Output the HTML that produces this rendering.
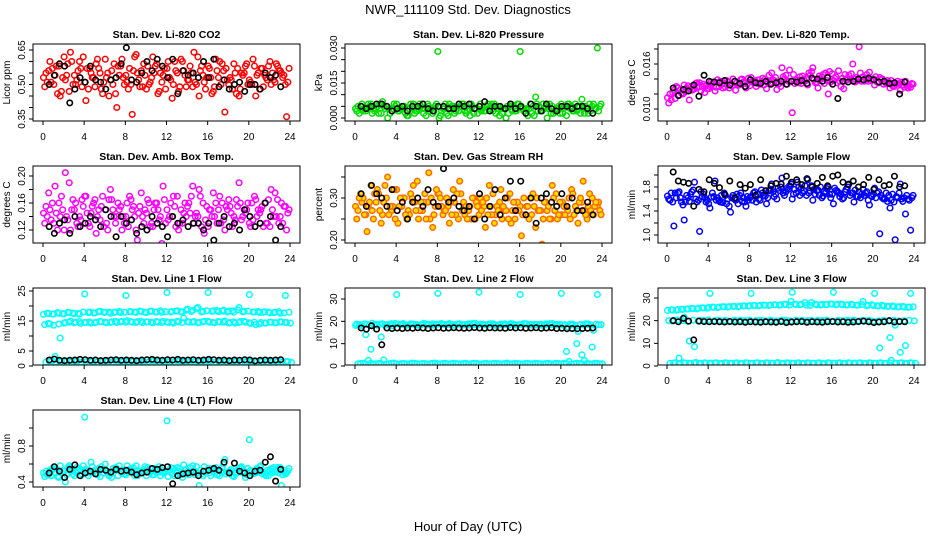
<!DOCTYPE html>
<html><head><meta charset="utf-8"><style>
html,body{margin:0;padding:0;background:#fff;}
svg{display:block;font-family:"Liberation Sans",sans-serif;}
</style></head><body>
<svg id="chart" width="936" height="540" viewBox="0 0 936 540" xmlns="http://www.w3.org/2000/svg">
<rect x="0" y="0" width="936" height="540" fill="#fff"/>
<text x="468" y="14" text-anchor="middle" font-size="13" fill="#000">NWR_111109 Std. Dev. Diagnostics</text>
<text x="468" y="531" text-anchor="middle" font-size="13" fill="#000">Hour of Day (UTC)</text>
</svg>
<script>
// ---- data ----
const xTicks = [0,4,8,12,16,20,24];

const co2A = [0.53,0.56,0.50,0.58,0.62,0.47,0.54,0.60,0.51,0.57,0.49,0.55,0.61,0.52,0.46,0.58,0.54,0.50,0.63,0.56,0.48,0.53,0.59,0.51,0.57,0.44,0.55,0.60,0.52,0.49,0.62,0.54,0.58,0.47,0.53,0.56,0.50,0.59,0.45,0.55,0.52,0.58,0.48,0.54,0.60,0.51,0.56,0.50];
const co2B = [0.49,0.60,0.54,0.45,0.52,0.64,0.50,0.57,0.43,0.55,0.59,0.48,0.53,0.56,0.40,0.61,0.51,0.37,0.55,0.49,0.58,0.62,0.46,0.54,0.60,0.50,0.47,0.56,0.52,0.64,0.45,0.51,0.57,0.49,0.60,0.38,0.53,0.55,0.48,0.58,0.51,0.45,0.57,0.53,0.50,0.59,0.55,0.36];
const co2C = [0.55,0.51,0.58,0.47,0.54,0.60,0.52,0.49,0.57,0.53,0.61,0.46,0.55,0.50,0.58,0.53,0.48,0.56,0.52,0.59,0.50,0.55,0.47,0.57,0.53,0.60,0.49,0.54,0.58,0.51,0.56,0.48,0.53,0.61,0.50,0.57,0.52,0.46,0.55,0.59,0.50,0.54,0.57,0.52,0.55,0.58,0.53,0.51];
const co2D = [0.51,0.57,0.46,0.53,0.59,0.50,0.56,0.62,0.48,0.53,0.57,0.51,0.45,0.59,0.54,0.50,0.57,0.62,0.49,0.54,0.51,0.58,0.55,0.48,0.52,0.56,0.61,0.49,0.55,0.50,0.58,0.53,0.46,0.56,0.59,0.52,0.48,0.57,0.54,0.50,0.61,0.55,0.49,0.58,0.52,0.56,0.54,0.57];
const co2K = [0.50,0.54,0.59,0.58,0.42,0.48,0.53,0.51,0.58,0.52,0.51,0.48,0.52,0.53,0.59,0.66,0.52,0.51,0.55,0.60,0.56,0.61,0.58,0.53,0.61,0.46,0.56,0.54,0.55,0.53,0.60,0.53,0.61,0.49,0.52,0.48,0.50,0.51,0.47,0.50,0.50,0.48,0.55,0.53,0.54,0.49];

const presA = [0.004,0.005,0.003,0.006,0.004,0.002,0.005,0.003,0.006,0.004,0.001,0.005,0.003,0.004,0.006,0.002,0.0285,0.004,0.001,0.005,0.003,0.006,0.004,0.002,0.005,0.003,0.004,0.006,0.001,0.004,0.005,0.003,0.0285,0.004,0.006,0.009,0.003,0.005,0.002,0.004,0.006,0.001,0.005,0.003,0.008,0.004,0.005,0.030];
const presB = [0.003,0.006,0.004,0.002,0.005,0.007,0.000,0.004,0.003,0.005,0.001,0.006,0.004,0.002,0.005,0.003,0.000,0.004,0.006,0.002,0.005,0.003,0.001,0.004,0.006,0.003,0.005,0.002,0.004,0.000,0.006,0.003,0.005,0.004,0.002,0.006,0.003,0.000,0.005,0.004,0.002,0.006,0.003,0.005,0.004,0.002,0.006,0.003];
const presC = [0.005,0.003,0.006,0.004,0.002,0.005,0.004,0.006,0.003,0.005,0.004,0.002,0.006,0.004,0.003,0.005,0.001,0.006,0.004,0.003,0.005,0.002,0.006,0.004,0.003,0.005,0.006,0.004,0.002,0.005,0.003,0.006,0.004,0.001,0.005,0.003,0.006,0.004,0.002,0.005,0.004,0.006,0.003,0.005,0.002,0.006,0.004,0.005];
const presD = [0.002,0.004,0.005,0.003,0.006,0.004,0.002,0.005,0.004,0.002,0.006,0.003,0.005,0.001,0.004,0.006,0.003,0.002,0.005,0.004,0.006,0.003,0.005,0.002,0.004,0.006,0.003,0.005,0.004,0.002,0.005,0.006,0.003,0.004,0.001,0.005,0.004,0.006,0.003,0.002,0.005,0.004,0.006,0.002,0.005,0.003,0.004,0.006];
const presK = [0.005,0.004,0.005,0.006,0.006,0.005,0.003,0.004,0.005,0.003,0.005,0.005,0.006,0.004,0.003,0.005,0.005,0.004,0.004,0.006,0.005,0.006,0.004,0.005,0.007,0.003,0.005,0.005,0.004,0.006,0.004,0.005,0.002,0.006,0.005,0.003,0.006,0.004,0.003,0.005,0.005,0.004,0.005,0.005,0.004,0.002];

const tempA = [0.0115,0.0122,0.0128,0.0120,0.0131,0.0126,0.0129,0.0133,0.0127,0.0136,0.0130,0.0134,0.0128,0.0137,0.0132,0.0135,0.0131,0.0138,0.0133,0.0140,0.0135,0.0142,0.0130,0.0145,0.0137,0.0139,0.0134,0.0141,0.0150,0.0136,0.0143,0.0138,0.0147,0.0135,0.0141,0.0139,0.0160,0.0138,0.0143,0.0137,0.0140,0.0135,0.0133,0.0136,0.0130,0.0134,0.0129,0.0131];
const tempB = [0.0108,0.0125,0.0118,0.0132,0.0112,0.0127,0.0135,0.0122,0.0130,0.0124,0.0137,0.0129,0.0133,0.0125,0.0139,0.0128,0.0142,0.0130,0.0136,0.0127,0.0148,0.0126,0.0155,0.0133,0.0095,0.0139,0.0144,0.0132,0.0155,0.0128,0.0146,0.0120,0.0138,0.0151,0.0127,0.0145,0.0140,0.0183,0.0137,0.0149,0.0132,0.0142,0.0136,0.0128,0.0134,0.0125,0.0137,0.0129];
const tempC = [0.0120,0.0114,0.0126,0.0123,0.0129,0.0134,0.0124,0.0131,0.0136,0.0129,0.0133,0.0138,0.0131,0.0135,0.0140,0.0133,0.0137,0.0134,0.0141,0.0136,0.0139,0.0133,0.0143,0.0137,0.0146,0.0135,0.0140,0.0148,0.0139,0.0144,0.0134,0.0150,0.0141,0.0137,0.0146,0.0140,0.0136,0.0148,0.0141,0.0138,0.0143,0.0139,0.0134,0.0138,0.0133,0.0136,0.0131,0.0134];
const tempD = [0.0112,0.0130,0.0121,0.0128,0.0125,0.0135,0.0130,0.0127,0.0134,0.0139,0.0128,0.0136,0.0140,0.0132,0.0136,0.0141,0.0135,0.0139,0.0132,0.0145,0.0138,0.0134,0.0140,0.0152,0.0134,0.0143,0.0137,0.0145,0.0135,0.0141,0.0148,0.0136,0.0143,0.0130,0.0139,0.0147,0.0142,0.0137,0.0146,0.0140,0.0136,0.0140,0.0138,0.0131,0.0137,0.0132,0.0128,0.0133];
const tempK = [0.0128,0.0118,0.0126,0.0124,0.0132,0.0117,0.0145,0.0137,0.0136,0.0135,0.0138,0.0132,0.0137,0.0134,0.0130,0.0139,0.0135,0.0134,0.0137,0.0133,0.0135,0.0137,0.0133,0.0137,0.0136,0.0138,0.0134,0.0141,0.0140,0.0137,0.0142,0.0133,0.0114,0.0137,0.0136,0.0137,0.0140,0.0139,0.0141,0.0139,0.0136,0.0137,0.0134,0.0135,0.0120,0.0136];

const ambA = [0.145,0.175,0.13,0.16,0.12,0.19,0.15,0.14,0.17,0.125,0.165,0.135,0.15,0.18,0.13,0.155,0.14,0.165,0.12,0.175,0.145,0.13,0.16,0.10,0.15,0.14,0.17,0.13,0.155,0.185,0.14,0.16,0.125,0.175,0.15,0.135,0.165,0.14,0.19,0.15,0.13,0.17,0.145,0.16,0.125,0.175,0.14,0.155];
const ambB = [0.13,0.15,0.185,0.14,0.205,0.12,0.16,0.135,0.17,0.145,0.115,0.155,0.13,0.165,0.14,0.12,0.16,0.15,0.105,0.14,0.165,0.125,0.15,0.185,0.135,0.17,0.12,0.145,0.16,0.13,0.18,0.115,0.15,0.14,0.17,0.12,0.155,0.135,0.16,0.145,0.125,0.165,0.15,0.13,0.18,0.14,0.16,0.12];
const ambC = [0.155,0.135,0.145,0.17,0.14,0.15,0.13,0.165,0.145,0.155,0.14,0.17,0.12,0.15,0.16,0.14,0.125,0.155,0.145,0.13,0.16,0.15,0.135,0.165,0.14,0.155,0.13,0.16,0.145,0.14,0.17,0.135,0.15,0.16,0.13,0.155,0.145,0.165,0.135,0.15,0.16,0.14,0.155,0.13,0.15,0.165,0.13,0.145];
const ambD = [0.14,0.16,0.12,0.15,0.135,0.165,0.125,0.155,0.13,0.16,0.15,0.125,0.165,0.14,0.15,0.13,0.17,0.14,0.155,0.15,0.125,0.16,0.14,0.13,0.16,0.125,0.15,0.14,0.17,0.145,0.125,0.155,0.14,0.13,0.16,0.15,0.125,0.155,0.14,0.16,0.135,0.15,0.125,0.165,0.14,0.13,0.155,0.15];
const ambK = [0.125,0.115,0.13,0.135,0.115,0.14,0.125,0.13,0.14,0.135,0.125,0.15,0.14,0.11,0.14,0.13,0.135,0.115,0.125,0.12,0.14,0.13,0.125,0.11,0.14,0.13,0.135,0.125,0.13,0.13,0.12,0.13,0.105,0.13,0.14,0.125,0.13,0.12,0.15,0.14,0.125,0.13,0.16,0.14,0.105,0.125];

const rhA = [0.28,0.31,0.26,0.33,0.29,0.24,0.30,0.27,0.32,0.28,0.25,0.30,0.34,0.27,0.29,0.23,0.31,0.26,0.28,0.32,0.25,0.29,0.27,0.30,0.26,0.28,0.33,0.24,0.29,0.27,0.31,0.25,0.28,0.26,0.30,0.23,0.27,0.29,0.25,0.31,0.26,0.28,0.32,0.27,0.29,0.25,0.30,0.28];
const rhB = [0.25,0.29,0.22,0.27,0.32,0.26,0.35,0.28,0.24,0.30,0.27,0.33,0.25,0.29,0.36,0.26,0.31,0.27,0.24,0.29,0.34,0.26,0.28,0.25,0.30,0.23,0.28,0.26,0.32,0.27,0.24,0.29,0.21,0.28,0.26,0.30,0.19,0.27,0.33,0.25,0.29,0.27,0.31,0.24,0.34,0.28,0.26,0.29];
const rhC = [0.27,0.30,0.28,0.25,0.31,0.29,0.26,0.32,0.28,0.30,0.26,0.29,0.27,0.31,0.25,0.28,0.30,0.27,0.29,0.26,0.31,0.28,0.25,0.29,0.27,0.30,0.26,0.28,0.25,0.30,0.27,0.29,0.26,0.28,0.31,0.27,0.25,0.28,0.30,0.26,0.28,0.30,0.26,0.29,0.27,0.31,0.28,0.27];
const rhD = [0.30,0.26,0.29,0.31,0.27,0.33,0.28,0.25,0.30,0.26,0.31,0.27,0.29,0.25,0.30,0.32,0.28,0.30,0.26,0.31,0.27,0.25,0.30,0.28,0.29,0.26,0.31,0.27,0.28,0.25,0.29,0.27,0.30,0.25,0.28,0.27,0.29,0.25,0.27,0.29,0.26,0.25,0.28,0.30,0.26,0.27,0.29,0.26];
const rhK = [0.31,0.28,0.33,0.31,0.30,0.28,0.32,0.27,0.29,0.25,0.29,0.30,0.28,0.32,0.29,0.28,0.37,0.29,0.30,0.28,0.27,0.28,0.25,0.31,0.25,0.28,0.32,0.26,0.30,0.34,0.27,0.34,0.26,0.30,0.24,0.30,0.31,0.29,0.28,0.31,0.28,0.30,0.27,0.27,0.29,0.26];

const flowA = [1.65,1.55,1.70,1.50,1.62,1.75,1.58,1.68,1.52,1.64,1.57,1.70,1.48,1.60,1.66,1.55,1.62,1.72,1.58,1.65,1.75,1.68,1.80,1.72,1.85,1.70,1.78,1.66,1.82,1.74,1.62,1.77,1.68,1.73,1.60,1.80,1.70,1.64,1.76,1.58,1.68,1.72,1.60,1.66,1.55,1.70,1.62,1.58];
const flowB = [1.60,1.15,1.72,1.25,1.56,1.88,1.06,1.62,1.45,1.90,1.55,1.66,1.38,1.58,1.70,1.48,1.64,1.55,1.75,1.52,1.85,1.60,1.95,1.78,1.60,1.88,1.70,1.92,1.58,1.75,1.65,1.80,1.52,1.70,1.62,1.85,1.55,1.72,1.66,1.50,1.78,1.02,1.60,1.45,0.92,1.85,1.35,1.08];
const flowC = [1.58,1.70,1.62,1.55,1.68,1.60,1.72,1.55,1.63,1.58,1.66,1.52,1.62,1.68,1.56,1.64,1.58,1.68,1.70,1.62,1.72,1.78,1.70,1.76,1.68,1.80,1.74,1.70,1.76,1.66,1.72,1.68,1.78,1.64,1.72,1.66,1.75,1.62,1.70,1.66,1.62,1.66,1.70,1.58,1.64,1.60,1.66,1.62];
const flowD = [1.70,1.62,1.55,1.66,1.72,1.55,1.64,1.58,1.70,1.62,1.54,1.60,1.66,1.52,1.62,1.58,1.70,1.60,1.66,1.74,1.64,1.74,1.66,1.82,1.76,1.66,1.82,1.74,1.68,1.80,1.70,1.62,1.74,1.68,1.76,1.70,1.64,1.68,1.72,1.64,1.70,1.62,1.56,1.68,1.62,1.56,1.60,1.66];
const flowK = [2.05,1.90,1.88,1.86,1.48,1.76,1.72,1.92,1.86,1.79,1.68,1.90,1.62,1.84,1.78,1.84,1.66,1.92,1.74,1.82,1.86,1.85,1.98,1.88,1.92,1.84,1.94,1.80,1.86,1.96,1.82,1.98,2.00,1.88,1.84,1.90,1.80,1.84,1.96,1.76,1.92,1.82,1.84,1.98,1.80,1.82];

const l1Up = [17.2,17.5,17.3,17.6,17.4,17.8,17.5,17.3,24.0,18.0,17.7,18.2,17.9,17.6,18.0,17.8,23.5,18.1,17.9,18.2,17.8,18.3,18.0,17.9,24.5,18.2,18.4,17.9,19.0,18.5,19.5,18.2,24.5,18.4,18.1,18.6,18.3,17.9,19.5,18.2,23.8,18.0,17.8,18.1,17.7,17.9,17.6,23.5];
const l1Up2 = [17.6,17.3,17.8,17.4,17.9,17.6,17.5,18.0,17.8,17.7,18.1,17.9,18.0,17.8,18.2,17.9,18.1,18.0,18.3,17.9,18.2,18.0,18.4,18.1,18.0,18.3,18.1,18.6,18.2,19.2,18.0,18.4,18.2,18.5,18.3,18.0,18.4,18.7,18.1,18.3,18.0,18.2,17.9,18.0,17.8,18.1,17.7,17.9];
const l1Mid = [13.8,14.0,3.2,9.3,14.5,15.0,14.6,14.2,14.5,14.3,14.6,14.8,14.4,14.7,14.5,14.9,15.1,14.6,14.8,14.5,14.7,14.4,14.6,14.9,14.5,14.3,14.7,16.0,14.6,14.8,14.5,14.9,14.6,14.4,14.7,15.0,14.5,14.3,14.8,14.6,14.2,13.8,14.5,14.3,14.6,14.4,14.7,14.5];
const l1Mid2 = [14.2,13.6,14.0,14.3,14.6,14.4,14.8,14.5,14.7,14.4,14.8,14.6,14.5,14.9,14.7,14.6,14.8,14.5,14.9,14.7,14.6,14.8,14.5,14.7,14.6,14.9,14.5,14.8,14.6,14.4,14.7,14.9,14.5,14.8,14.6,14.3,14.7,14.5,14.9,14.4,14.6,14.0,14.3,14.6,14.4,14.7,14.5,14.3];
const l1Low = [1.3,1.5,1.2,1.6,1.4,1.3,1.7,1.2,0.6,1.5,1.4,1.3,1.6,1.2,1.5,1.4,1.3,1.6,1.5,1.2,1.4,1.7,1.3,1.5,1.4,1.2,1.6,1.3,1.5,1.4,1.6,1.2,1.5,1.3,1.4,1.7,1.3,1.5,1.2,1.4,1.6,1.3,1.5,1.4,1.2,1.6,1.3,1.5];
const l1Low2 = [1.5,1.2,1.4,1.6,1.3,1.5,1.2,1.4,1.6,1.3,1.5,1.4,1.2,1.6,1.3,1.5,1.4,1.2,1.5,1.3,1.6,1.4,1.2,1.5,1.3,1.6,1.4,1.2,1.5,1.3,1.4,1.6,1.2,1.5,1.3,1.4,1.6,1.2,1.5,1.3,1.4,1.6,1.2,1.5,1.3,1.4,1.5,1.2];
const l1K = [2.0,2.3,1.9,1.8,1.9,2.0,2.2,2.1,1.9,2.0,1.8,1.9,2.0,2.1,1.9,2.0,1.9,1.8,2.0,2.1,2.2,2.0,1.9,2.1,2.0,2.2,1.9,2.0,2.1,1.9,2.0,2.2,2.1,1.9,2.0,1.8,2.0,1.9,2.1,2.0,1.7,1.9,2.0,1.9,2.0,2.1];

const l2Up = [18.2,18.5,14,7.5,18.7,13,18.4,18.9,32,18.6,18.3,18.8,18.5,18.7,18.4,18.9,32.5,18.6,18.8,18.5,18.7,18.4,18.9,18.6,33,18.5,18.8,18.6,18.4,18.9,18.7,18.5,32,18.8,18.6,18.4,18.7,18.9,18.5,18.6,32.5,6.5,18.4,10,5,18.6,8.5,32];
const l2Up2 = [18.8,18.0,18.6,19.2,18.3,18.9,18.5,18.1,18.8,19.0,18.4,18.7,18.2,19.1,18.6,18.3,18.8,18.5,19.0,18.2,18.9,18.6,18.3,19.1,18.7,18.4,18.9,18.2,18.8,18.5,19.0,18.3,18.7,18.9,18.4,18.6,18.2,18.8,19.0,18.5,18.3,17.5,18.7,15.5,18.4,18.8,16.0,18.5];
const l2Up3 = [18.4,18.9,18.2,18.6,18.8,18.3,18.7,19.0,18.5,18.2,18.9,18.6,18.4,18.8,18.3,18.7,19.0,18.5,18.2,18.8,18.4,18.6,19.0,18.3,18.7,18.5,18.9,18.4,18.6,18.2,18.8,18.5,19.0,18.3,18.7,18.6,18.4,18.9,18.2,18.7,18.5,18.8,18.3,18.6,18.9,18.4,18.7,18.5];
const l2Low = [1.0,1.2,2.5,0.9,1.1,2.7,1.0,1.3,0.8,1.1,1.0,1.2,0.9,1.1,1.0,1.3,0.9,1.2,1.0,1.1,0.9,1.2,1.0,1.1,0.8,1.2,1.0,1.1,0.9,1.3,1.0,1.1,0.9,1.2,1.0,1.1,0.9,1.2,1.0,1.1,1.2,2.0,1.0,1.1,2.5,1.0,1.2,0.9];
const l2Low2 = [1.1,0.9,1.2,1.0,1.1,0.9,1.2,1.0,1.1,0.9,1.3,1.0,1.1,0.9,1.2,1.0,1.1,0.9,1.2,1.0,1.1,0.9,1.2,1.0,1.1,0.9,1.2,1.0,1.1,0.9,1.2,1.0,1.1,0.9,1.2,1.0,1.1,0.9,1.2,1.0,1.1,0.9,1.2,1.0,1.1,0.9,1.2,1.0];
const l2K = [17.0,16.5,18.0,16.5,9.5,17.0,16.8,17.0,16.8,17.0,16.9,17.1,17.0,16.8,17.0,17.1,16.9,17.0,17.1,17.0,16.9,17.0,17.2,17.0,16.9,17.1,17.0,17.0,16.9,17.2,17.0,17.1,16.9,17.0,17.1,16.9,17.0,17.1,16.8,16.9,16.7,16.8,16.7,16.8,16.9,17.0];

const l3Top = [24.5,24.7,24.9,25.0,25.2,25.3,25.5,25.6,25.8,25.9,26.0,26.1,26.2,26.3,26.4,26.5,26.6,26.7,26.8,26.8,26.9,27.0,27.0,27.1,28.5,27.1,27.2,26.8,28.0,27.0,27.2,27.1,27.3,27.2,27.1,27.0,27.0,26.9,28.5,26.8,26.7,26.5,26.4,26.3,26.2,26.1,26.0,26.0];
const l3Top2 = [24.8,24.6,25.0,25.1,25.4,25.2,25.7,25.5,26.0,25.8,26.2,26.0,26.3,26.1,26.5,26.4,26.7,26.5,26.9,26.7,27.0,26.8,27.2,26.9,27.3,27.0,28.0,26.7,27.3,26.9,27.1,27.4,27.0,27.3,26.9,27.2,26.8,27.1,26.6,27.0,26.5,26.8,26.3,26.5,26.1,26.3,25.9,26.1];
const l3Mid = [20.0,20.2,3.5,21.5,11,8.5,20.1,19.8,32,20.0,19.9,20.1,19.8,20.0,20.2,19.9,32,20.0,20.1,19.8,20.0,19.9,20.2,20.0,32.5,19.9,20.1,20.0,19.8,20.2,20.0,19.9,32.5,20.1,19.9,20.0,20.2,19.8,20.0,20.1,32,8,20.0,12.5,18,6,9,32];
const l3Mid2 = [19.8,20.3,20.0,19.7,20.2,19.9,20.1,20.3,19.8,20.1,20.0,19.7,20.2,19.9,20.0,20.2,19.8,20.1,19.9,20.2,19.8,20.0,20.1,19.9,20.2,20.0,19.8,20.1,19.9,20.0,20.2,19.8,20.0,19.9,20.2,20.0,19.8,20.1,20.0,19.8,19.9,20.1,19.8,20.2,19.9,20.0,20.1,19.9];
const l3Low = [1.2,1.4,1.1,1.3,1.2,1.5,1.1,1.3,1.2,1.4,1.1,1.3,1.2,1.4,1.0,1.3,1.2,1.4,1.1,1.3,1.2,1.5,1.1,1.3,1.2,1.4,1.1,1.3,1.2,1.4,1.1,1.3,1.2,1.4,1.1,1.3,1.2,1.4,1.1,1.3,1.2,1.4,1.1,2.5,1.2,1.4,1.1,1.3];
const l3Low2 = [1.3,1.1,1.4,1.2,1.3,1.1,1.4,1.2,1.3,1.1,1.4,1.2,1.3,1.1,1.4,1.2,1.3,1.1,1.4,1.2,1.3,1.1,1.4,1.2,1.3,1.1,1.4,1.2,1.3,1.1,1.4,1.2,1.3,1.1,1.4,1.2,1.3,1.1,1.4,1.2,1.3,1.1,1.4,1.2,1.3,1.1,1.4,1.2];
const l3K = [20.0,19.5,21.0,19.8,11.5,19.8,19.6,19.5,19.6,19.5,19.4,19.6,19.4,19.5,19.3,19.5,19.4,19.3,19.5,19.4,19.3,19.6,19.2,19.4,19.5,19.6,19.3,19.5,19.4,19.3,19.5,19.6,19.4,19.5,19.3,19.4,19.6,19.8,19.5,19.2,19.4,19.5,20.0,19.4,19.6,19.5];

const l4A = [0.50,0.48,0.54,0.45,0.52,0.58,0.47,0.55,1.12,0.50,0.53,0.46,0.60,0.49,0.56,0.52,0.48,0.54,0.58,0.51,0.47,0.55,0.50,0.53,1.08,0.49,0.56,0.45,0.52,0.58,0.50,0.47,0.55,0.53,0.49,0.60,0.51,0.46,0.55,0.52,0.87,0.50,0.57,0.48,0.53,0.51,0.56,0.49];
const l4B = [0.46,0.53,0.50,0.58,0.40,0.56,0.51,0.47,0.54,0.62,0.49,0.57,0.52,0.45,0.55,0.50,0.58,0.53,0.47,0.52,0.56,0.48,0.54,0.50,0.46,0.55,0.52,0.59,0.48,0.53,0.36,0.57,0.50,0.54,0.47,0.65,0.52,0.49,0.56,0.45,0.53,0.50,0.58,0.47,0.55,0.52,0.36,0.50];
const l4C = [0.52,0.47,0.55,0.50,0.48,0.53,0.56,0.49,0.52,0.57,0.48,0.54,0.50,0.55,0.47,0.53,0.51,0.56,0.49,0.54,0.52,0.48,0.57,0.51,0.53,0.47,0.55,0.50,0.56,0.48,0.53,0.51,0.47,0.56,0.52,0.49,0.54,0.50,0.57,0.48,0.52,0.55,0.49,0.53,0.50,0.56,0.48,0.52];
const l4D = [0.48,0.55,0.46,0.52,0.56,0.49,0.53,0.58,0.47,0.51,0.55,0.50,0.47,0.53,0.58,0.49,0.54,0.47,0.52,0.57,0.50,0.55,0.47,0.52,0.56,0.51,0.48,0.54,0.50,0.57,0.49,0.52,0.55,0.48,0.56,0.51,0.47,0.53,0.50,0.55,0.49,0.54,0.51,0.47,0.56,0.50,0.53,0.55];
const l4K = [0.50,0.57,0.52,0.45,0.54,0.59,0.47,0.50,0.52,0.49,0.54,0.53,0.51,0.54,0.52,0.53,0.51,0.48,0.50,0.51,0.55,0.54,0.56,0.57,0.38,0.47,0.49,0.50,0.51,0.47,0.52,0.53,0.55,0.53,0.62,0.50,0.61,0.52,0.50,0.47,0.52,0.53,0.62,0.68,0.41,0.54];

const co2Ticks=[0.35,0.40,0.45,0.50,0.55,0.60,0.65], co2Labels=["0.35","","","0.50","","","0.65"];
const presTicks=[0,0.005,0.010,0.015,0.020,0.025,0.030], presLabels=["0.000","","","0.015","","","0.030"];
const tempTicks=[0.010,0.012,0.014,0.016,0.018], tempLabels=["0.010","","","0.016",""];
const ambTicks=[0.12,0.14,0.16,0.18,0.20], ambLabels=["0.12","","0.16","","0.20"];
const rhTicks=[0.20,0.25,0.30,0.35], rhLabels=["0.20","","0.30",""];
const flowTicks=[1.0,1.2,1.4,1.6,1.8,2.0], flowLabels=["1.0","","1.4","","1.8",""];
const l1Ticks=[0,5,10,15,20,25], l1Labels=["0","5","","15","","25"];
const l23Ticks=[0,10,20,30], l23Labels=["0","10","20","30"];
const l4Ticks=[0.4,0.6,0.8,1.0], l4Labels=["0.4","","0.8",""];

// ---- layout ----
const NS="http://www.w3.org/2000/svg";
const svg=document.getElementById('chart');
function mk(tag,attrs,parent){const e=document.createElementNS(NS,tag);for(const k in attrs)e.setAttribute(k,attrs[k]);(parent||svg).appendChild(e);return e;}

const colX=[{box:33,x0:43},{box:345,x0:355},{box:658,x0:667}];
const BOXW=267, XSPAN=247;
const panels=[
 {name:'co2',title:'Stan. Dev. Li-820 CO2',ylab:'Licor ppm',r:0,c:0,v1:0.35,p1:119,v2:0.65,p2:50,ticks:co2Ticks,labels:co2Labels,color:'#ff0000',fill:'none',series:[co2A,co2B,co2C,co2D],black:co2K},
 {name:'pressure',title:'Stan. Dev. Li-820 Pressure',ylab:'kPa',r:0,c:1,v1:0,p1:118,v2:0.030,p2:48,ticks:presTicks,labels:presLabels,color:'#00dd00',fill:'none',series:[presA,presB,presC,presD],black:presK},
 {name:'temp',title:'Stan. Dev. Li-820 Temp.',ylab:'degrees C',r:0,c:2,v1:0.010,p1:109,v2:0.016,p2:64,ticks:tempTicks,labels:tempLabels,color:'#ff00ff',fill:'none',series:[tempA,tempB,tempC,tempD],black:tempK},
 {name:'amb-box-temp',title:'Stan. Dev. Amb. Box Temp.',ylab:'degrees C',r:1,c:0,v1:0.12,p1:230,v2:0.20,p2:176,ticks:ambTicks,labels:ambLabels,color:'#ff00ff',fill:'none',series:[ambA,ambB,ambC,ambD],black:ambK},
 {name:'gas-rh',title:'Stan. Dev. Gas Stream RH',ylab:'percent',r:1,c:1,v1:0.20,p1:240,v2:0.30,p2:198,ticks:rhTicks,labels:rhLabels,color:'#ff6a00',fill:'#ffdd00',series:[rhA,rhB,rhC,rhD],black:rhK},
 {name:'sample-flow',title:'Stan. Dev. Sample Flow',ylab:'ml/min',r:1,c:2,v1:1.0,p1:235,v2:1.8,p2:187,ticks:flowTicks,labels:flowLabels,color:'#0000ff',fill:'none',series:[flowA,flowB,flowC,flowD],black:flowK},
 {name:'line1-flow',title:'Stan. Dev. Line 1 Flow',ylab:'ml/min',r:2,c:0,v1:0,p1:366,v2:25,p2:291,ticks:l1Ticks,labels:l1Labels,color:'#00ffff',fill:'none',series:[l1Up,l1Mid,l1Low,l1Up2,l1Mid2,l1Low2],black:l1K},
 {name:'line2-flow',title:'Stan. Dev. Line 2 Flow',ylab:'ml/min',r:2,c:1,v1:0,p1:366,v2:30,p2:299,ticks:l23Ticks,labels:l23Labels,color:'#00ffff',fill:'none',series:[l2Up,l2Up2,l2Low,l2Up3,l2Low2],black:l2K},
 {name:'line3-flow',title:'Stan. Dev. Line 3 Flow',ylab:'ml/min',r:2,c:2,v1:0,p1:366,v2:30,p2:298,ticks:l23Ticks,labels:l23Labels,color:'#00ffff',fill:'none',series:[l3Top,l3Mid,l3Low,l3Top2,l3Mid2,l3Low2],black:l3K},
 {name:'line4-flow',title:'Stan. Dev. Line 4 (LT) Flow',ylab:'ml/min',r:3,c:0,v1:0.4,p1:482,v2:0.8,p2:446,ticks:l4Ticks,labels:l4Labels,color:'#00ffff',fill:'none',series:[l4A,l4B,l4C,l4D],black:l4K}
];

panels.forEach(p=>{
  const g=mk('g',{});
  
  
  const col=colX[p.c];
  const top=44+122*p.r, bot=121+122*p.r;
  const xs=h=>col.x0+h*XSPAN/24;
  const ys=v=>p.p1+(v-p.v1)*(p.p2-p.p1)/(p.v2-p.v1);
  const bl=col.box, br=col.box+BOXW;
  const t=mk('text',{x:(bl+br)/2,y:top-6,'text-anchor':'middle','font-size':'10.5','font-weight':'bold'},g);
  t.textContent=p.title;
  
  
  const yl=mk('text',{x:0,y:0,'text-anchor':'middle','font-size':'10',transform:`translate(${bl-23},${(top+bot)/2}) rotate(-90)`},g);
  yl.textContent=p.ylab;
  
  
  const cid='clip-'+p.name;
  const cp=mk('clipPath',{id:cid},g); mk('rect',{x:bl,y:top,width:BOXW,height:bot-top},cp);
  const pts=mk('g',{'clip-path':`url(#${cid})`},g);
  
  
  p.series.forEach((arr,si)=>{
    arr.forEach((v,i)=>{
      const c=mk('circle',{cx:xs(0.05+si*0.12+i*0.5),cy:ys(v),r:2.8,fill:p.fill,stroke:p.color,'stroke-width':1.5},pts);
      
      
    });
  });
  p.black.forEach((v,i)=>{
    const c=mk('circle',{cx:xs(0.6+i*0.5),cy:ys(v),r:2.7,fill:'none',stroke:'#000','stroke-width':1.6},pts);
    
    
  });
  mk('rect',{x:bl,y:top,width:BOXW,height:bot-top,fill:'none',stroke:'#000','stroke-width':1},g);
  const xa=mk('g',{},g);
  
  
  xTicks.forEach(h=>{
    mk('line',{x1:xs(h),x2:xs(h),y1:bot,y2:bot+4,stroke:'#000'},xa);
    const tl=mk('text',{x:xs(h),y:bot+19,'text-anchor':'middle','font-size':'10'},xa);
    tl.textContent=h;
  });
  const ya=mk('g',{},g);
  
  
  p.ticks.forEach((v,i)=>{
    mk('line',{x1:bl,x2:bl-4,y1:ys(v),y2:ys(v),stroke:'#000'},ya);
    if(p.labels[i]){
      const tl=mk('text',{x:0,y:0,'text-anchor':'middle','font-size':'10',transform:`translate(${bl-8},${ys(v)}) rotate(-90)`},ya);
      tl.textContent=p.labels[i];
    }
  });
});
</script>
</body></html>
